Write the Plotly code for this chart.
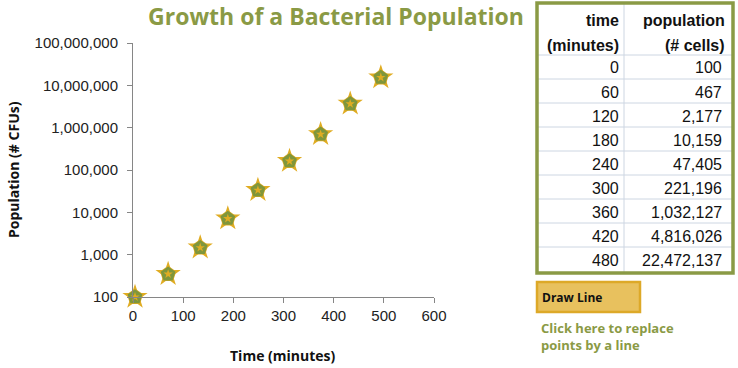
import plotly.graph_objects as go

# ---- data ----
time_points = [4, 70, 134, 189, 249, 312, 374, 433, 494]
population_points = [100, 347, 1465, 7130, 33400, 162600, 698000, 3650000, 15300000]

y_tickvals = [100, 1000, 10000, 100000, 1000000, 10000000, 100000000]
y_ticktext = ["100", "1,000", "10,000", "100,000", "1,000,000", "10,000,000", "100,000,000"]

table_time = ["0", "60", "120", "180", "240", "300", "360", "420", "480"]
table_population = ["100", "467", "2,177", "10,159", "47,405", "221,196",
                    "1,032,127", "4,816,026", "22,472,137"]
header_time = ["time", "(minutes)"]
header_population = ["population", "(# cells)"]

W, H = 738, 368
OLIVE = "#8A9A45"
GOLD = "#E0AC22"
MARK_OLIVE = "#7F963B"
GRID = "#CDD6E2"


def px(x):
    return x / W


def py(y):
    return 1 - y / H


fig = go.Figure()

# marker layers: gold rim (star + pentagon), olive pentagon, small gold star centre
fig.add_trace(go.Scatter(x=time_points, y=population_points, mode="markers",
                         marker=dict(symbol="star", size=19, color=GOLD, line=dict(width=0)),
                         cliponaxis=False, showlegend=False, hoverinfo="skip"))
fig.add_trace(go.Scatter(x=time_points, y=population_points, mode="markers",
                         marker=dict(symbol="pentagon", size=17, color=GOLD, line=dict(width=0)),
                         cliponaxis=False, showlegend=False, hoverinfo="skip"))
fig.add_trace(go.Scatter(x=time_points, y=population_points, mode="markers",
                         marker=dict(symbol="pentagon", size=15.5, color=MARK_OLIVE,
                                     line=dict(width=0)),
                         cliponaxis=False, showlegend=False))
fig.add_trace(go.Scatter(x=time_points, y=population_points, mode="markers",
                         marker=dict(symbol="star", size=7, color=GOLD, line=dict(width=0)),
                         cliponaxis=False, showlegend=False, hoverinfo="skip"))

# ---- table (shapes + annotations) ----
T_LEFT, T_RIGHT, T_TOP, T_BOTTOM = 537, 733, 3, 273
COL_DIV = 624
HEAD_BOTTOM = 55
ROW_H = 24
TIME_RIGHT, POP_RIGHT = 621, 724

shapes = []
annotations = []
n_rows = len(table_time)
for i in range(n_rows):
    yl = HEAD_BOTTOM + ROW_H * i
    shapes.append(dict(type="line", xref="paper", yref="paper",
                       x0=px(T_LEFT), x1=px(T_RIGHT), y0=py(yl), y1=py(yl),
                       line=dict(color=GRID, width=1)))
shapes.append(dict(type="line", xref="paper", yref="paper",
                   x0=px(COL_DIV), x1=px(COL_DIV), y0=py(T_TOP), y1=py(T_BOTTOM),
                   line=dict(color=GRID, width=1)))
shapes.append(dict(type="rect", xref="paper", yref="paper",
                   x0=px(T_LEFT), x1=px(T_RIGHT), y0=py(T_BOTTOM), y1=py(T_TOP),
                   line=dict(color=OLIVE, width=3.5), fillcolor="rgba(0,0,0,0)"))

for j, (ht, hp) in enumerate(zip(header_time, header_population)):
    yc = 21 + 24 * j
    annotations.append(dict(text=f"<b>{ht}</b>", xref="paper", yref="paper",
                            x=px(TIME_RIGHT), y=py(yc), xanchor="right", yanchor="middle",
                            showarrow=False,
                            font=dict(family="Liberation Sans", size=16, color="#111")))
    annotations.append(dict(text=f"<b>{hp}</b>", xref="paper", yref="paper",
                            x=px(POP_RIGHT + 3), y=py(yc), xanchor="right", yanchor="middle",
                            showarrow=False,
                            font=dict(family="Liberation Sans", size=16, color="#111")))

for i, (t, p) in enumerate(zip(table_time, table_population)):
    yc = HEAD_BOTTOM + ROW_H * i + 13
    annotations.append(dict(text=t, xref="paper", yref="paper",
                            x=px(TIME_RIGHT), y=py(yc), xanchor="right", yanchor="middle",
                            showarrow=False,
                            font=dict(family="Liberation Sans", size=16, color="#111")))
    annotations.append(dict(text=p, xref="paper", yref="paper",
                            x=px(POP_RIGHT), y=py(yc), xanchor="right", yanchor="middle",
                            showarrow=False,
                            font=dict(family="Liberation Sans", size=16, color="#111")))

# ---- button and caption ----
shapes.append(dict(type="rect", xref="paper", yref="paper",
                   x0=px(537), x1=px(640), y0=py(312), y1=py(282),
                   line=dict(color="#DDA928", width=2.5), fillcolor="#E8C15E"))
annotations.append(dict(text="<b>Draw Line</b>", xref="paper", yref="paper",
                        x=px(540), y=py(297), xanchor="left", yanchor="middle", showarrow=False,
                        font=dict(family="Open Sans", size=12, color="#111")))
annotations.append(dict(text="<b>Click here to replace<br>points by a line</b>",
                        xref="paper", yref="paper",
                        x=px(539), y=py(317), xanchor="left", yanchor="top", showarrow=False,
                        align="left", font=dict(family="Open Sans", size=13, color=OLIVE)))

# ---- axis titles ----
annotations.append(dict(text="<b>Time (minutes)</b>", xref="paper", yref="paper",
                        x=px(283), y=py(355), xanchor="center", yanchor="middle",
                        showarrow=False,
                        font=dict(family="Open Sans", size=14, color="#111")))
annotations.append(dict(text="<b>Population (# CFUs)</b>", xref="paper", yref="paper",
                        x=px(14), y=py(170), xanchor="center", yanchor="middle",
                        textangle=-90, showarrow=False,
                        font=dict(family="Open Sans", size=14, color="#111")))

axis_color = "#868686"
fig.update_layout(
    width=W, height=H,
    margin=dict(l=0, r=0, t=0, b=0),
    paper_bgcolor="white", plot_bgcolor="white",
    title=dict(text="<b>Growth of a Bacterial Population</b>",
               x=px(336), y=py(17), xanchor="center", yanchor="middle",
               font=dict(family="Open Sans", size=23, color=OLIVE)),
    xaxis=dict(domain=[px(133), px(434)], range=[0, 600], dtick=100, automargin=False,
               showgrid=False, zeroline=False, showline=True, linecolor=axis_color,
               ticks="outside", ticklen=5, tickcolor=axis_color,
               tickfont=dict(family="Liberation Sans", size=15, color="#222")),
    yaxis=dict(domain=[py(297), py(43)], type="log", range=[2, 8], automargin=False,
               tickvals=y_tickvals, ticktext=y_ticktext,
               showgrid=False, zeroline=False, showline=True, linecolor=axis_color,
               ticks="outside", ticklen=5, tickcolor=axis_color,
               ticklabelstandoff=6,
               tickfont=dict(family="Liberation Sans", size=15, color="#222")),
    shapes=shapes,
    annotations=annotations,
)

fig.write_html("out.html", config={"displayModeBar": False},
               post_script="document.body.style.margin='0';document.body.style.overflow='hidden';")
